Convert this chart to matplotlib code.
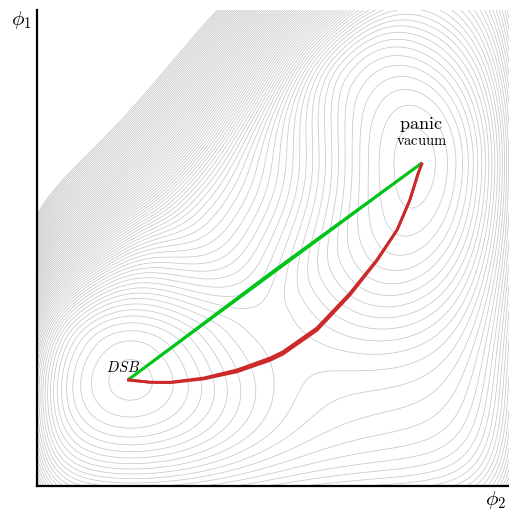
import matplotlib
matplotlib.use('Agg')
import matplotlib.pyplot as plt
import numpy as np

plt.rcParams['mathtext.fontset'] = 'cm'
plt.rcParams['contour.negative_linestyle'] = 'solid'

# vacua in the (phi2, phi1) plane
dsb = (0.193, 0.223)
panic = (0.816, 0.679)

# the valley between them follows a quarter ellipse: centre, semi-axes
valley_centre = (0.193, 0.679)
valley_axes = (0.623, 0.456)

# wells along the valley: angle (rad), depth, angular width, radial width, radius
dsb_well = (-np.pi / 2, -10.5, 0.294, 0.39, 1.06)
panic_well = (0.0, -12.5, 0.65, 0.25, 1.0)
barrier = (-1.005, 4.0, 0.25, 0.30, 1.0)
inner_rise = (25.0, 0.72)
top_rise = 48.0

# walls
upper_wall = (0.97, 0.30, 130.0, 194.0, 0.04)   # slope, offset, linear, quadratic, softness
wall_right = (12.0, 0.06)
wall_left = (10.0, 0.04)
wall_bottom = (8.0, 0.10)

n_levels = 80

# bounce path after deformation (two last iterations) and the straight ansatz
red_x = [0.191, 0.239, 0.282, 0.354, 0.424, 0.494, 0.521, 0.593, 0.663,
         0.720, 0.763, 0.790, 0.807, 0.816]
red_y = [0.223, 0.218, 0.218, 0.227, 0.244, 0.269, 0.282, 0.332, 0.405,
         0.475, 0.538, 0.601, 0.655, 0.679]
red_y_prev = [0.223, 0.218, 0.217, 0.225, 0.240, 0.264, 0.277, 0.327, 0.401,
              0.473, 0.538, 0.601, 0.655, 0.679]
green_x = [dsb[0], 0.500, panic[0]]
green_y = [dsb[1], 0.4477, panic[1]]
green_y_prev = [dsb[1], 0.451, panic[1]]


def valley_well(theta, rho, well):
    t0, depth, st, sr, r0 = well
    dt = np.angle(np.exp(1j * (theta - t0)))
    return depth * np.exp(-dt**2 / (2 * st**2) - (rho - r0)**2 / (2 * sr**2))


def potential(x, y):
    u = (x - valley_centre[0]) / valley_axes[0]
    w = (y - valley_centre[1]) / valley_axes[1]
    rho = np.hypot(u, w)
    theta = np.arctan2(w, u)
    v = sum(valley_well(theta, rho, p) for p in (dsb_well, panic_well, barrier))
    v += inner_rise[0] * np.clip(inner_rise[1] - rho**2, 0, None)**2
    v += top_rise * np.clip(y - panic[1], 0, None)**2

    slope, offset, g1, g2, soft = upper_wall
    d = soft * np.logaddexp(0, (y - slope * x - offset) / soft)
    v += g1 * d + g2 * d**2

    v += wall_right[0] * np.exp((x - 1.0) / wall_right[1])
    v += wall_left[0] * np.exp(-x / wall_left[1])
    v += wall_bottom[0] * np.exp(-y / wall_bottom[1])
    return v


phi2 = np.linspace(0, 1, 600)
phi1 = np.linspace(0, 1, 600)
X, Y = np.meshgrid(phi2, phi1)
V = potential(X, Y)
vmin = V.min()
levels = vmin + 0.6 + np.arange(n_levels)

fig = plt.figure(figsize=(5.09, 5.11), dpi=100)
ax = fig.add_axes([37 / 509, 25 / 511, 1 - 37 / 509, 476 / 511])
ax.contour(X, Y, V, levels=levels, colors='#c8c8c8', linewidths=0.55)

for gy in (green_y, green_y_prev):
    ax.plot(green_x, gy, color='#00c41a', lw=2.0, solid_capstyle='butt')
for ry in (red_y, red_y_prev):
    ax.plot(red_x, ry, color='#cc2a2a', lw=2.0, solid_capstyle='butt')

ax.text(0.182, 0.2395, r'$DSB$', fontsize=10.5, ha='center', va='baseline')
ax.text(0.814, 0.750, r'$\mathrm{panic}$', fontsize=13, ha='center', va='baseline')
ax.text(0.816, 0.716, r'$\mathrm{vacuum}$', fontsize=10.5, ha='center', va='baseline')

ax.set_xlim(0, 1)
ax.set_ylim(0, 1)
ax.set_xticks([])
ax.set_yticks([])
for side in ('top', 'right'):
    ax.spines[side].set_visible(False)
for side in ('left', 'bottom'):
    ax.spines[side].set_linewidth(1.6)

fig.text(21 / 509, 1 - 20 / 511, r'$\phi_1$', fontsize=15, ha='center', va='center')
fig.text(496 / 509, 1 - 500 / 511, r'$\phi_2$', fontsize=15, ha='center', va='center')

fig.savefig('out.png', dpi=100)
